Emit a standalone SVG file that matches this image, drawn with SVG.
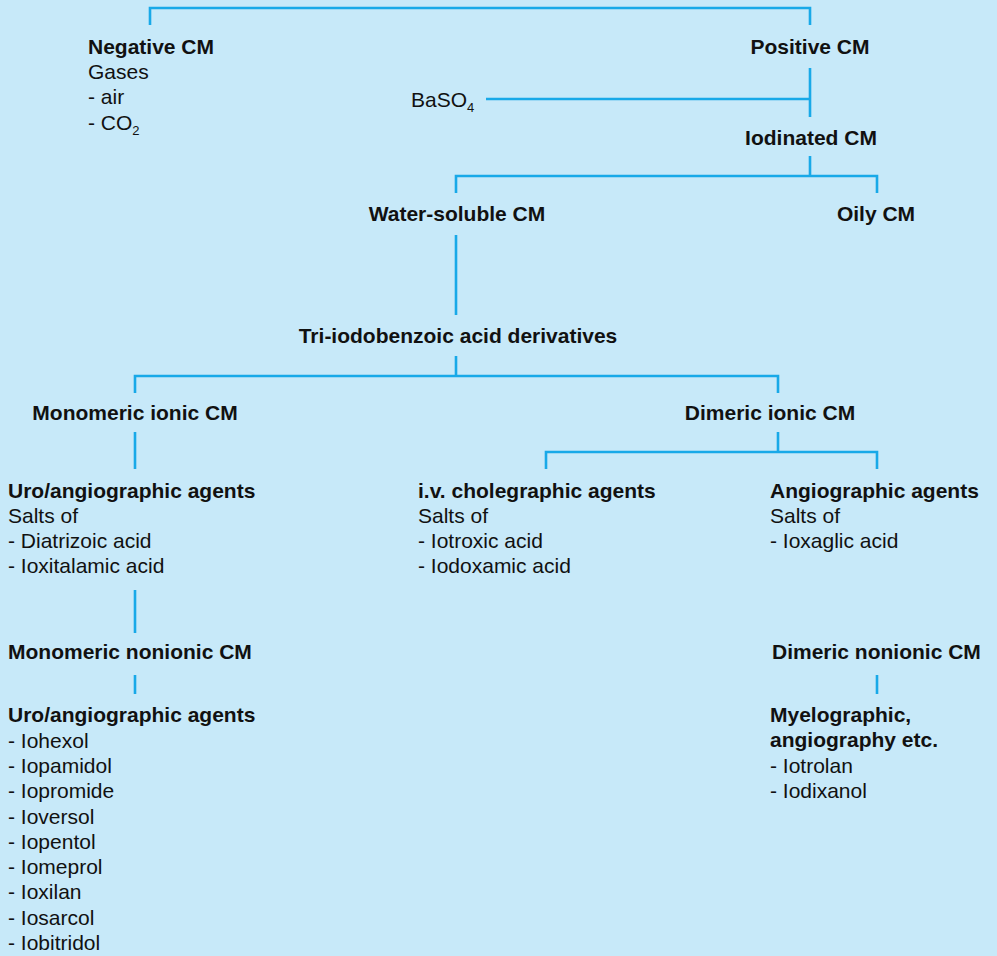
<svg xmlns="http://www.w3.org/2000/svg" width="997" height="956" viewBox="0 0 997 956">
<style>
text{font-family:"Liberation Sans",Arial,sans-serif;font-size:21px;fill:#111}
.b{font-weight:bold}
.m{text-anchor:middle}
.sub{font-size:13px}
#connectors path{fill:none;stroke:#18A9E8;stroke-width:2.6}
</style>
<rect width="997" height="956" fill="#C7E9F9"/>
<g id="connectors">
<path d="M150,25 V8 H810 V25"/>
<path d="M810,68 V117 M486,99 H810"/>
<path d="M810,156 V176 M456,193 V176 H877 V193"/>
<path d="M456,235 V315"/>
<path d="M456,356 V376 M135,393 V376 H778 V393"/>
<path d="M135,432 V469"/>
<path d="M778,432 V452 M546,469 V452 H877 V469"/>
<path d="M135,590 V633"/>
<path d="M135,675 V694"/>
<path d="M877,675 V694"/>
</g>
<g id="negative"><text class="b" x="88" y="54">Negative CM</text><text x="88" y="79">Gases</text><text x="88" y="104">- air</text><text x="88" y="130">- CO<tspan class="sub" dy="5">2</tspan></text></g>
<g id="positive"><text class="b m" x="810" y="54">Positive CM</text></g>
<g id="baso4"><text x="411" y="107">BaSO<tspan class="sub" dy="5">4</tspan></text></g>
<g id="iodinated"><text class="b m" x="811" y="145">Iodinated CM</text></g>
<g id="water"><text class="b m" x="457" y="221">Water-soluble CM</text></g>
<g id="oily"><text class="b m" x="876" y="221">Oily CM</text></g>
<g id="tri"><text class="b m" x="458" y="343">Tri-iodobenzoic acid derivatives</text></g>
<g id="monoionic"><text class="b m" x="135" y="420">Monomeric ionic CM</text></g>
<g id="diionic"><text class="b m" x="770" y="420">Dimeric ionic CM</text></g>
<g id="uro1"><text class="b" x="8" y="498">Uro/angiographic agents</text><text x="8" y="523">Salts of</text><text x="8" y="548">- Diatrizoic acid</text><text x="8" y="573">- Ioxitalamic acid</text></g>
<g id="iv"><text class="b" x="418" y="498">i.v. cholegraphic agents</text><text x="418" y="523">Salts of</text><text x="418" y="548">- Iotroxic acid</text><text x="418" y="573">- Iodoxamic acid</text></g>
<g id="angio"><text class="b" x="770" y="498">Angiographic agents</text><text x="770" y="523">Salts of</text><text x="770" y="548">- Ioxaglic acid</text></g>
<g id="mononon"><text class="b" x="8" y="659">Monomeric nonionic CM</text></g>
<g id="dinon"><text class="b" x="772" y="659">Dimeric nonionic CM</text></g>
<g id="uro2"><text class="b" x="8" y="722">Uro/angiographic agents</text><text x="8" y="748">- Iohexol</text><text x="8" y="773">- Iopamidol</text><text x="8" y="798">- Iopromide</text><text x="8" y="824">- Ioversol</text><text x="8" y="849">- Iopentol</text><text x="8" y="874">- Iomeprol</text><text x="8" y="899">- Ioxilan</text><text x="8" y="925">- Iosarcol</text><text x="8" y="950">- Iobitridol</text></g>
<g id="myelo"><text class="b" x="770" y="722">Myelographic,</text><text class="b" x="770" y="747">angiography etc.</text><text x="770" y="773">- Iotrolan</text><text x="770" y="798">- Iodixanol</text></g>
</svg>
